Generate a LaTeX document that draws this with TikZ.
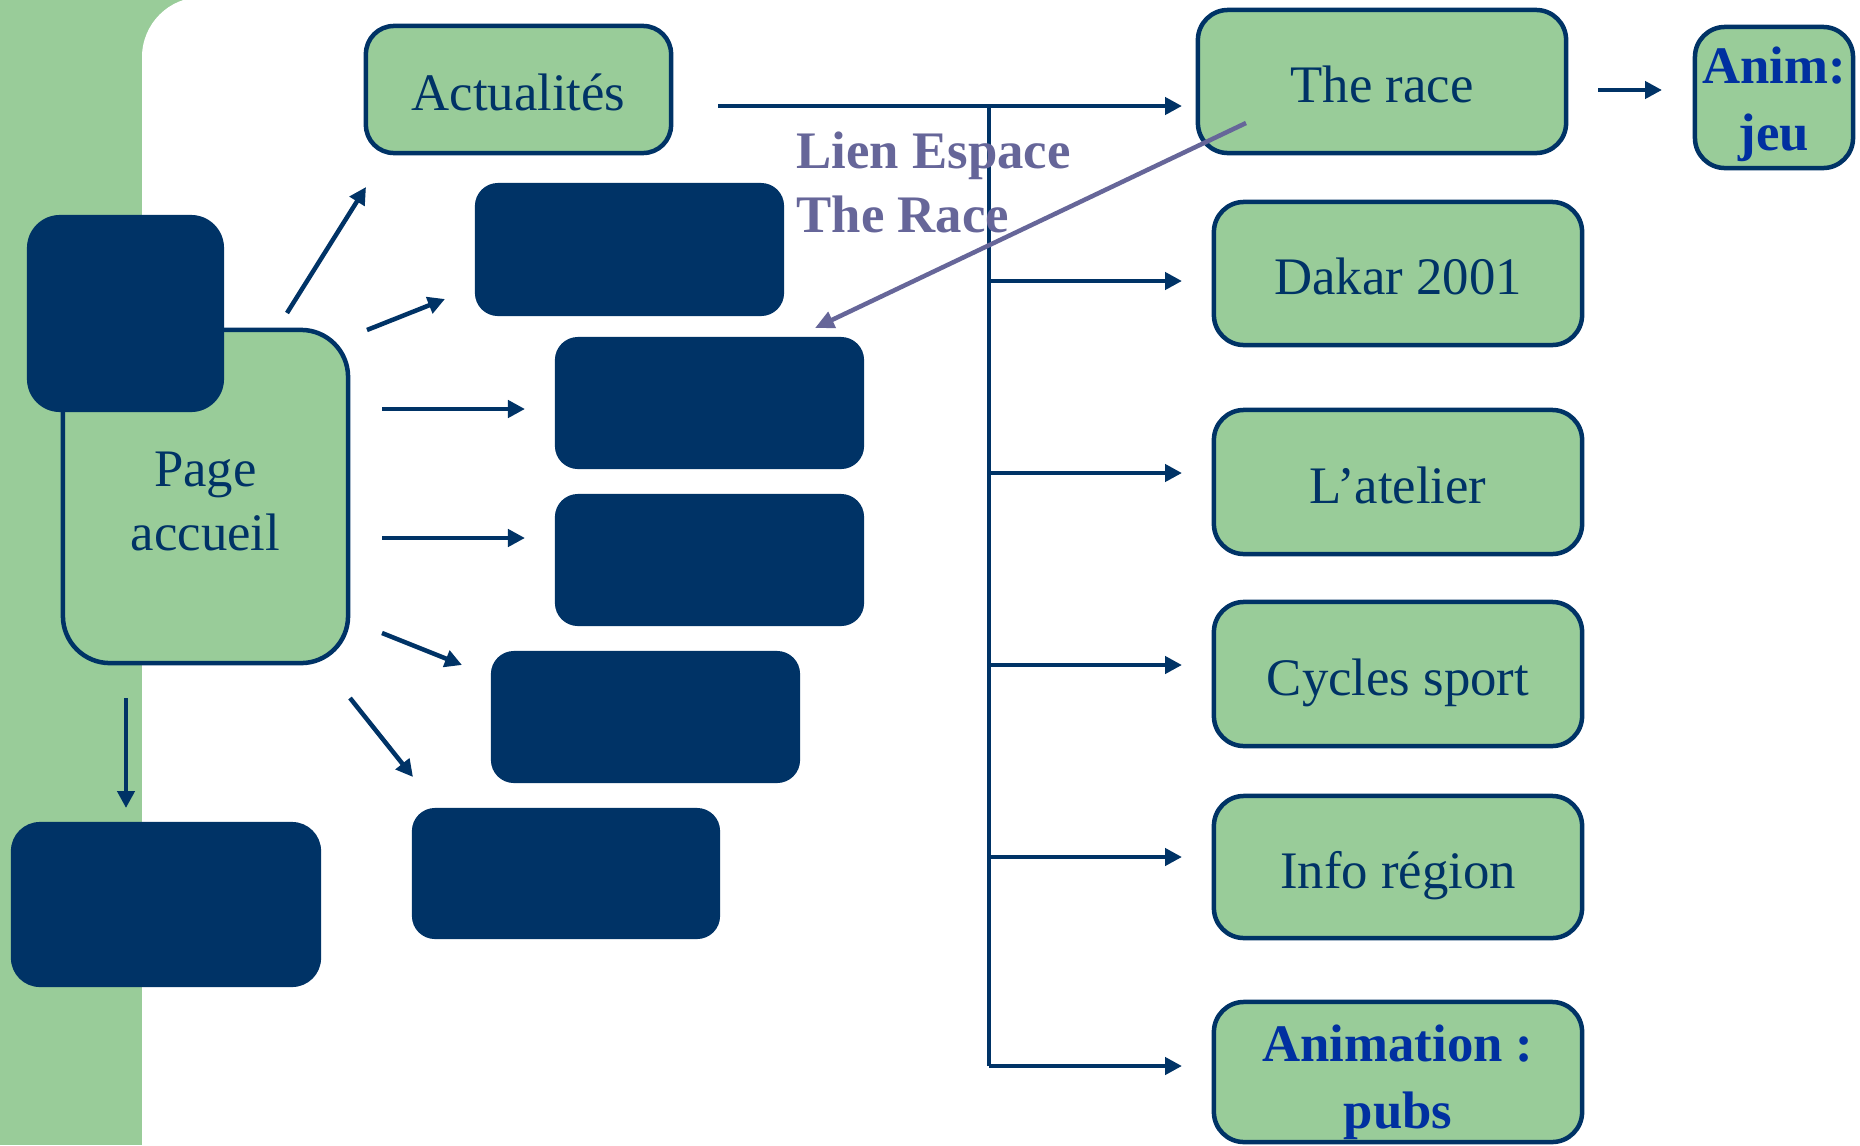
\documentclass[tikz,border=0pt]{standalone}
\usepackage{fontspec}
\setmainfont{Liberation Serif}
\usetikzlibrary{arrows.meta}
\definecolor{navy}{HTML}{003366}
\definecolor{lgreen}{HTML}{99CC99}
\definecolor{bblue}{HTML}{0030A0}
\definecolor{lavender}{HTML}{666699}
\begin{document}
\begin{tikzpicture}[x=0.01cm,y=-0.01cm,
  gbox/.style={draw=navy, fill=lgreen, line width=0.045cm, rounded corners=0.28cm,
    inner sep=0pt, text=navy, font=\fontsize{15}{18.2}\selectfont, align=center},
  oneline/.style={text height=0.42cm, text depth=0cm},
  bigtext/.style={text=bblue, font=\fontsize{15}{19}\selectfont\bfseries},
  dbox/.style={fill=navy, rounded corners=0.23cm, inner sep=0pt},
  arr/.style={draw=navy, line width=0.045cm, -{Triangle[length=0.17cm,width=0.17cm]}},
  plain/.style={draw=navy, line width=0.045cm},
  parr/.style={draw=lavender, line width=0.045cm, -{Triangle[length=0.19cm,width=0.17cm]}}]
\useasboundingbox (0,0) rectangle (1860,1145);
\begin{scope}
\clip (0,0) rectangle (1860,1145);
\fill[lgreen] (0,0) rectangle (400,1145);
\fill[white, rounded corners=0.6cm] (142,-3) rectangle (1900,1200);
\end{scope}

% left column
\node[gbox, rounded corners=0.47cm, minimum width=2.85cm, minimum height=3.33cm] (home) at (205.5,496.5) {\rule{0pt}{0.44cm}Page\\ accueil};
\node[dbox, rounded corners=0.33cm, minimum width=1.97cm, minimum height=1.97cm] (d0) at (125.5,313.5) {};
\node[dbox, rounded corners=0.29cm, minimum width=3.10cm, minimum height=1.65cm] (d6) at (166,904.5) {};

% middle column
\node[gbox, oneline, minimum width=3.05cm, minimum height=1.27cm] (actu) at (518.5,89.5) {Actualités};
\node[dbox, minimum width=3.09cm, minimum height=1.33cm] (d1) at (629.5,249.5) {};
\node[dbox, minimum width=3.09cm, minimum height=1.32cm] (d2) at (709.5,403) {};
\node[dbox, minimum width=3.09cm, minimum height=1.32cm] (d3) at (709.5,560) {};
\node[dbox, minimum width=3.09cm, minimum height=1.32cm] (d4) at (645.5,717) {};
\node[dbox, minimum width=3.08cm, minimum height=1.31cm] (d5) at (566,873.5) {};

% right column
\node[gbox, oneline, rounded corners=0.3cm, minimum width=3.68cm, minimum height=1.43cm] (race) at (1382,81.5) {The race};
\node[gbox, oneline, rounded corners=0.3cm, minimum width=3.68cm, minimum height=1.43cm] (dakar) at (1398,273.5) {Dakar 2001};
\node[gbox, oneline, rounded corners=0.3cm, minimum width=3.68cm, minimum height=1.44cm] (atelier) at (1398,482) {L’atelier};
\node[gbox, oneline, rounded corners=0.3cm, minimum width=3.68cm, minimum height=1.44cm] (cycles) at (1398,674) {Cycles sport};
\node[gbox, oneline, rounded corners=0.3cm, minimum width=3.68cm, minimum height=1.42cm] (info) at (1398,867) {Info région};
\node[gbox, rounded corners=0.3cm, minimum width=3.68cm, minimum height=1.40cm] (anim) at (1398,1072) {};
\node[bigtext, align=center, inner sep=0pt] (animtxt) at (1398,1082) {Animation :\\ pubs};
\node[gbox, rounded corners=0.3cm, minimum width=1.58cm, minimum height=1.41cm] (jeu) at (1774,97.5) {};
\node[bigtext, align=center, inner sep=0pt] (jeutxt) at (1774,104) {Anim:\\ jeu};

% arrows from home page
\coordinate (a1s) at (287,313); \coordinate (a1e) at (366,187);
\coordinate (a2s) at (367,330); \coordinate (a2e) at (445,299);
\coordinate (a3s) at (382,409); \coordinate (a3e) at (525,409);
\coordinate (a4s) at (382,538); \coordinate (a4e) at (525,538);
\coordinate (a5s) at (382,633); \coordinate (a5e) at (462,665);
\coordinate (a6s) at (350,698); \coordinate (a6e) at (413,777);
\coordinate (a7s) at (126,698); \coordinate (a7e) at (126,808);
\draw[arr] (a1s) -- (a1e);
\draw[arr] (a2s) -- (a2e);
\draw[arr] (a3s) -- (a3e);
\draw[arr] (a4s) -- (a4e);
\draw[arr] (a5s) -- (a5e);
\draw[arr] (a6s) -- (a6e);
\draw[arr] (a7s) -- (a7e);

% tree
\coordinate (t0s) at (718,106);
\coordinate (j0) at (989,106); \coordinate (e0) at (1182,106);
\coordinate (j1) at (989,281); \coordinate (e1) at (1182,281);
\coordinate (j2) at (989,473); \coordinate (e2) at (1182,473);
\coordinate (j3) at (989,665); \coordinate (e3) at (1182,665);
\coordinate (j4) at (989,857); \coordinate (e4) at (1182,857);
\coordinate (j5) at (989,1066); \coordinate (e5) at (1182,1066);
\draw[plain] (j0) -- (j5);
\draw[arr] (t0s) -- (e0);
\draw[arr] (j1) -- (e1);
\draw[arr] (j2) -- (e2);
\draw[arr] (j3) -- (e3);
\draw[arr] (j4) -- (e4);
\draw[arr] (j5) -- (e5);

% anim arrow
\coordinate (r1) at (1598,90); \coordinate (r2) at (1662,90);
\draw[arr] (r1) -- (r2);

% link text and purple arrow
\node[anchor=north west, inner sep=0pt, align=left, text=lavender,
  font=\fontsize{15}{18.2}\selectfont\bfseries] (lien) at (796,131) {Lien Espace\\The Race};
\coordinate (ps) at (1246,123); \coordinate (pe) at (815,328);
\draw[parr] (ps) -- (pe);
\end{tikzpicture}
\end{document}
